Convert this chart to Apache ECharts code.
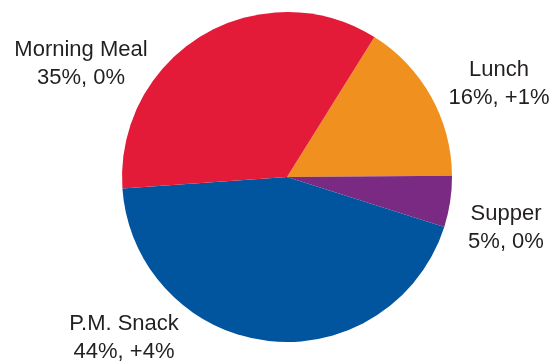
<!DOCTYPE html>
<html><head><meta charset="utf-8">
<script src="https://cdn.jsdelivr.net/npm/echarts@6/dist/echarts.min.js"></script>
<style>html,body{margin:0;padding:0;background:#fff}#c{width:559px;height:364px}</style>
</head><body><div id="c"></div>
<script>
const categories = ['Lunch', 'Supper', 'P.M. Snack', 'Morning Meal'];
const shares = [16, 5, 44, 35];
const changes = ['+1%', '0%', '+4%', '0%'];
const colors = ['#F0901F', '#7B2A84', '#00559E', '#E31A38'];
const labelPos = [[499, 84], [506, 228], [124, 338], [81, 64]];

const chart = echarts.init(document.getElementById('c'), null, {renderer: 'canvas'});
chart.setOption({
  animation: false,
  series: [{
    type: 'pie',
    center: [287, 177],
    radius: [0, 165],
    startAngle: 58,
    clockwise: true,
    silent: true,
    data: categories.map((c, i) => ({name: c, value: shares[i], itemStyle: {color: colors[i]}})),
    label: {
      show: true,
      position: 'outside',
      overflow: 'none',
      formatter: p => p.name + '\n' + shares[p.dataIndex] + '%, ' + changes[p.dataIndex],
      fontFamily: 'Liberation Sans, Arial, sans-serif',
      fontSize: 22,
      lineHeight: 28,
      color: '#231F20',
      align: 'center'
    },
    labelLine: {show: false},
    labelLayout: p => ({x: labelPos[p.dataIndex][0], y: labelPos[p.dataIndex][1], align: 'center', verticalAlign: 'middle', width: 200})
  }]
});
</script></body></html>
